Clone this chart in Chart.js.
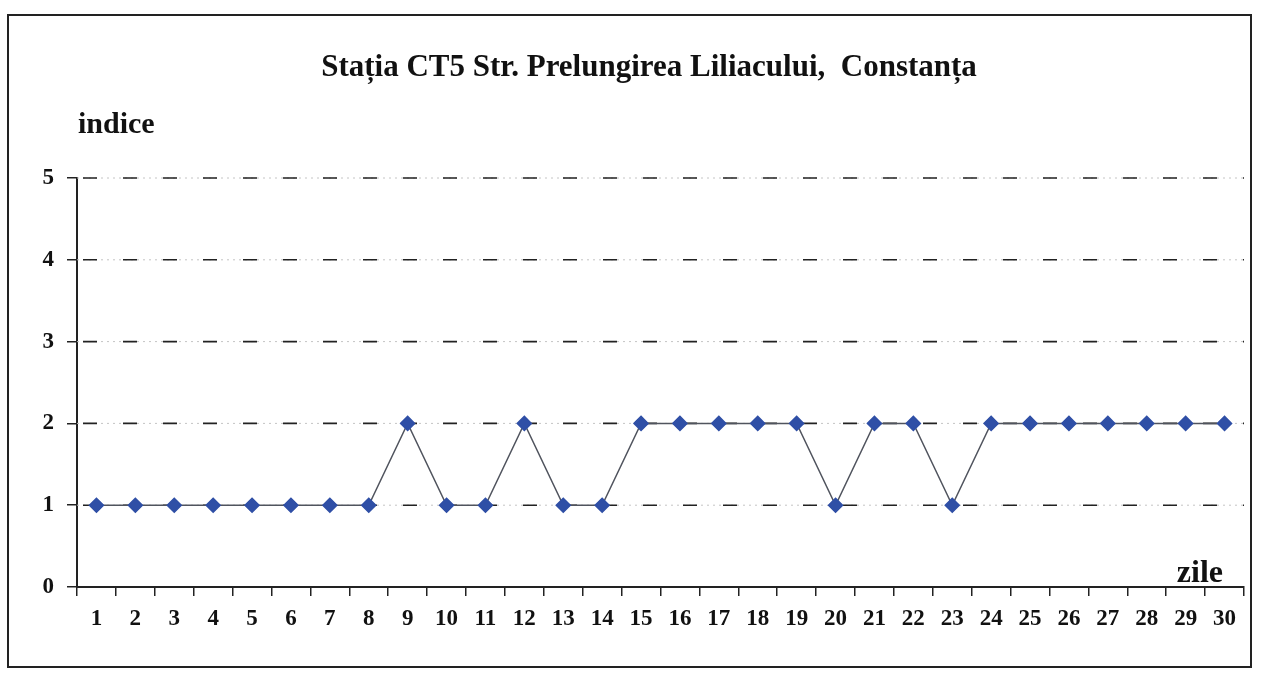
<!DOCTYPE html>
<html>
<head>
<meta charset="utf-8">
<script src="https://cdn.jsdelivr.net/npm/chart.js@4/dist/chart.umd.min.js"></script>
<style>
  html, body { margin: 0; padding: 0; background: #fff; }
  #wrap { position: relative; width: 1262px; height: 674px; }
  #frame { position: absolute; left: 7px; top: 14px; width: 1241px; height: 650px; border: 2px solid #222; }
  canvas { position: absolute; left: 0; top: 0; }
</style>
</head>
<body>
<div id="wrap">
  <div id="frame"></div>
  <canvas id="chart" width="1262" height="674"></canvas>
</div>
<script>
// days of the month
const days = ['1','2','3','4','5','6','7','8','9','10','11','12','13','14','15',
              '16','17','18','19','20','21','22','23','24','25','26','27','28','29','30'];
// air quality index per day
const indexValues = [1,1,1,1,1,1,1,1,2,1,1,2,1,1,2,2,2,2,2,1,2,2,1,2,2,2,2,2,2,2];
const yTicks = [0, 1, 2, 3, 4, 5];

const titleText = 'Stația CT5 Str. Prelungirea Liliacului,  Constanța';
const yLabel = 'indice';
const xLabel = 'zile';

const serif = '"Liberation Serif", "DejaVu Serif", serif';

// title + axis captions drawn on the canvas
const captions = {
    id: 'captions',
    afterDraw(chart) {
        const ctx = chart.ctx;
        const area = chart.chartArea;
        ctx.save();
        ctx.fillStyle = '#111';
        ctx.textBaseline = 'middle';
        ctx.font = 'bold 31px ' + serif;
        ctx.textAlign = 'center';
        ctx.fillText(titleText, 649, 68);
        ctx.font = 'bold 30px ' + serif;
        ctx.textAlign = 'left';
        ctx.fillText(yLabel, 78, 125);
        ctx.textAlign = 'right';
        ctx.font = 'bold 32px ' + serif;
        ctx.fillText(xLabel, area.right - 21, 574);
        ctx.restore();
    }
};

new Chart(document.getElementById('chart'), {
    type: 'line',
    data: {
        labels: days,
        datasets: [{
            data: indexValues,
            borderColor: '#50545e',
            borderWidth: 1.5,
            pointStyle: 'rectRot',
            pointRadius: 7,
            pointBackgroundColor: '#2f4fa6',
            pointBorderColor: '#2f4fa6',
            tension: 0
        }]
    },
    options: {
        responsive: false,
        animation: false,
        layout: { padding: { left: 0, right: 18, top: 178, bottom: 36 } },
        plugins: {
            legend: { display: false },
            tooltip: { enabled: false },
            title: { display: false }
        },
        scales: {
            x: {
                offset: true,
                afterFit: s => { s.height = 51; },
                grid: { drawOnChartArea: false, drawTicks: true, tickLength: 9, color: '#222', lineWidth: 1.5, offset: true },
                border: { display: true, color: '#222', width: 2 },
                ticks: { color: '#111', padding: 9, maxRotation: 0, autoSkip: false,
                         font: { family: serif, size: 23, weight: 'bold' } }
            },
            y: {
                min: 0,
                max: 5,
                afterFit: s => { s.width = 77; },
                afterBuildTicks: s => { s.ticks = yTicks.map(v => ({ value: v })); },
                grid: { drawOnChartArea: false, color: '#222', lineWidth: 1.5, tickLength: 10, drawTicks: true },
                border: { display: true, color: '#222', width: 2 },
                ticks: { color: '#111', padding: 13,
                         font: { family: serif, size: 23, weight: 'bold' } }
            }
        }
    },
    plugins: [captions, {
        id: 'dashGrid',
        beforeDatasetsDraw(chart) {
            // dash-dot gridlines across the plot
            const ctx = chart.ctx;
            const y = chart.scales.y;
            const a = chart.chartArea;
            ctx.save();
            yTicks.slice(1).forEach(v => {
                const py = y.getPixelForValue(v);
                ctx.strokeStyle = '#c4c4c4';
                ctx.lineWidth = 1;
                ctx.setLineDash([2, 4]);
                ctx.beginPath(); ctx.moveTo(a.left, py); ctx.lineTo(a.right, py); ctx.stroke();
                ctx.strokeStyle = '#222';
                ctx.lineWidth = 1.6;
                ctx.setLineDash([14, 26]);
                ctx.beginPath(); ctx.moveTo(a.left + 6, py); ctx.lineTo(a.right, py); ctx.stroke();
            });
            ctx.restore();
        }
    }]
});
</script>
</body>
</html>
